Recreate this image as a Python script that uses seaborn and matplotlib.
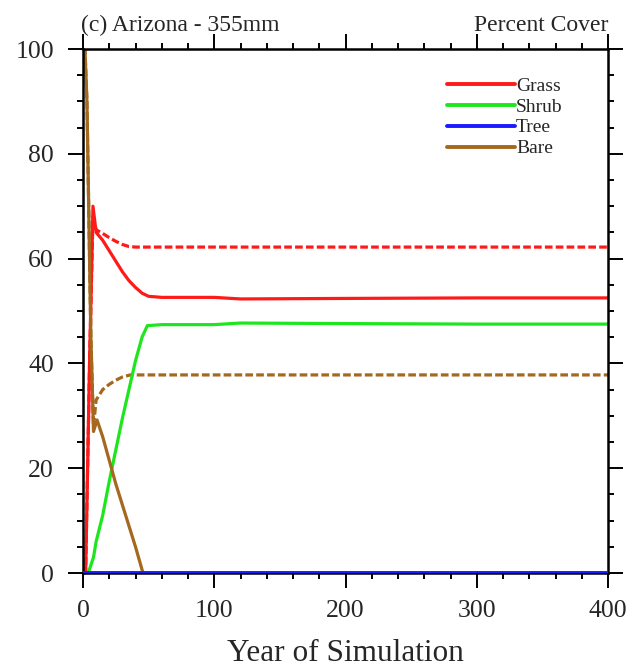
import matplotlib
matplotlib.use("Agg")
import matplotlib.pyplot as plt
from matplotlib.ticker import MultipleLocator
import seaborn as sns
import pandas as pd

# ---- data ----
grass_years = [0, 2, 5, 7.6, 10, 15, 20, 25, 30, 35, 40, 45, 50, 60, 100, 120, 200, 300, 400]
grass_solid = [0, 0, 40, 70, 65, 63.5, 61.5, 59.5, 57.5, 55.8, 54.5, 53.4, 52.8, 52.6, 52.6, 52.3, 52.4, 52.5, 52.5]
grass_dash_years = [0, 2, 5, 7.6, 10, 15, 20, 25, 30, 35, 40, 100, 200, 300, 400]
grass_dash = [0, 0, 40, 68, 65.5, 64.8, 64, 63.3, 62.7, 62.3, 62.2, 62.2, 62.2, 62.2, 62.2]

shrub_years = [0, 4, 8, 10, 15, 20, 25, 30, 35, 40, 45, 49, 60, 100, 120, 200, 300, 400]
shrub_solid = [0, 0, 3, 6, 11, 17.5, 23.5, 29.5, 35, 40.5, 45, 47.2, 47.4, 47.4, 47.7, 47.6, 47.5, 47.5]
shrub_dash_years = [0, 400]
shrub_dash = [0, 0]

tree_years = [0, 400]
tree_solid = [0, 0]
tree_dash = [0, 0]

bare_years = [0, 1.5, 3, 6, 8, 10.7, 15, 20, 25, 30, 35, 40, 45.7]
bare_solid = [100, 100, 90, 45, 27, 29.2, 26, 21.5, 17, 13, 9, 5, 0]
bare_dash_years = [0, 1.5, 3, 6, 8, 10, 15, 20, 25, 30, 36, 50, 100, 200, 300, 400]
bare_dash = [100, 100, 90, 45, 28, 33, 35, 36, 36.8, 37.4, 37.8, 37.8, 37.8, 37.8, 37.8, 37.8]

labels = ["Grass", "Shrub", "Tree", "Bare"]
colors = ["#ff1a1a", "#1ee61e", "#1a1aff", "#a4681e"]

x_ticks = [0, 100, 200, 300, 400]
y_ticks = [0, 20, 40, 60, 80, 100]

# ---- plotting ----
sns.set_style("ticks")
plt.rcParams["font.family"] = ["Liberation Serif", "DejaVu Serif"]

W, H = 633, 670
fig = plt.figure(figsize=(W / 100, H / 100), dpi=100)
L, R, T, B = 83, 608, 49, 573
ax = fig.add_axes([L / W, 1 - B / H, (R - L) / W, (B - T) / H])

dash = (2.4, 1.0)
lw = 2.3

solid_sets = [(grass_years, grass_solid), (shrub_years, shrub_solid),
              (tree_years, tree_solid), (bare_years, bare_solid)]
dash_sets = [(grass_dash_years, grass_dash), (shrub_dash_years, shrub_dash),
             (tree_years, tree_dash), (bare_dash_years, bare_dash)]

# dashed first (behind)
for (xs, ys), c in zip(dash_sets, colors):
    df = pd.DataFrame({"x": xs, "y": ys})
    sns.lineplot(data=df, x="x", y="y", ax=ax, color=c, lw=lw,
                 linestyle=(0, dash), legend=False)

for (xs, ys), c, lab in zip(solid_sets, colors, labels):
    df = pd.DataFrame({"x": xs, "y": ys})
    sns.lineplot(data=df, x="x", y="y", ax=ax, color=c, lw=lw, label=lab)

# tree on top
sns.lineplot(x=tree_years, y=tree_solid, ax=ax, color=colors[2], lw=2.8,
             zorder=5, legend=False)

ax.set_xlim(0, 400)
ax.set_ylim(0, 100)
ax.set_xticks(x_ticks)
ax.set_yticks(y_ticks)
ax.xaxis.set_minor_locator(MultipleLocator(20))
ax.yaxis.set_minor_locator(MultipleLocator(5))
ax.tick_params(which="both", direction="out", top=True, right=True,
               labeltop=False, labelright=False, width=1.4, color="black")
ax.tick_params(which="major", length=10.8, labelsize=18.5)
ax.tick_params(axis="x", which="major", pad=8.5)
ax.tick_params(axis="y", which="major", pad=10)
ax.tick_params(which="minor", length=4.3)
for s in ax.spines.values():
    s.set_visible(True)
    s.set_linewidth(1.8)
    s.set_color("black")

ax.set_xlabel("")
ax.set_ylabel("")
fig.text((L + R) / 2 / W, 1 - 661 / H, "Year of Simulation", fontsize=22.5,
         ha="center", va="baseline")
fig.text(81 / W, 1 - 31 / H, "(c) Arizona - 355mm", fontsize=17,
         ha="left", va="baseline")
fig.text(R / W, 1 - 31 / H, "Percent Cover", fontsize=17,
         ha="right", va="baseline")

leg = ax.legend(loc="upper left", bbox_to_anchor=(447 / W, 1 - 77 / H),
                bbox_transform=fig.transFigure, frameon=False,
                fontsize=14, handlelength=3.5, handletextpad=0.05,
                labelspacing=0.17, borderaxespad=0, borderpad=0)
for h in leg.get_lines():
    h.set_linewidth(2.8)

fig.savefig("out.png", dpi=100)
